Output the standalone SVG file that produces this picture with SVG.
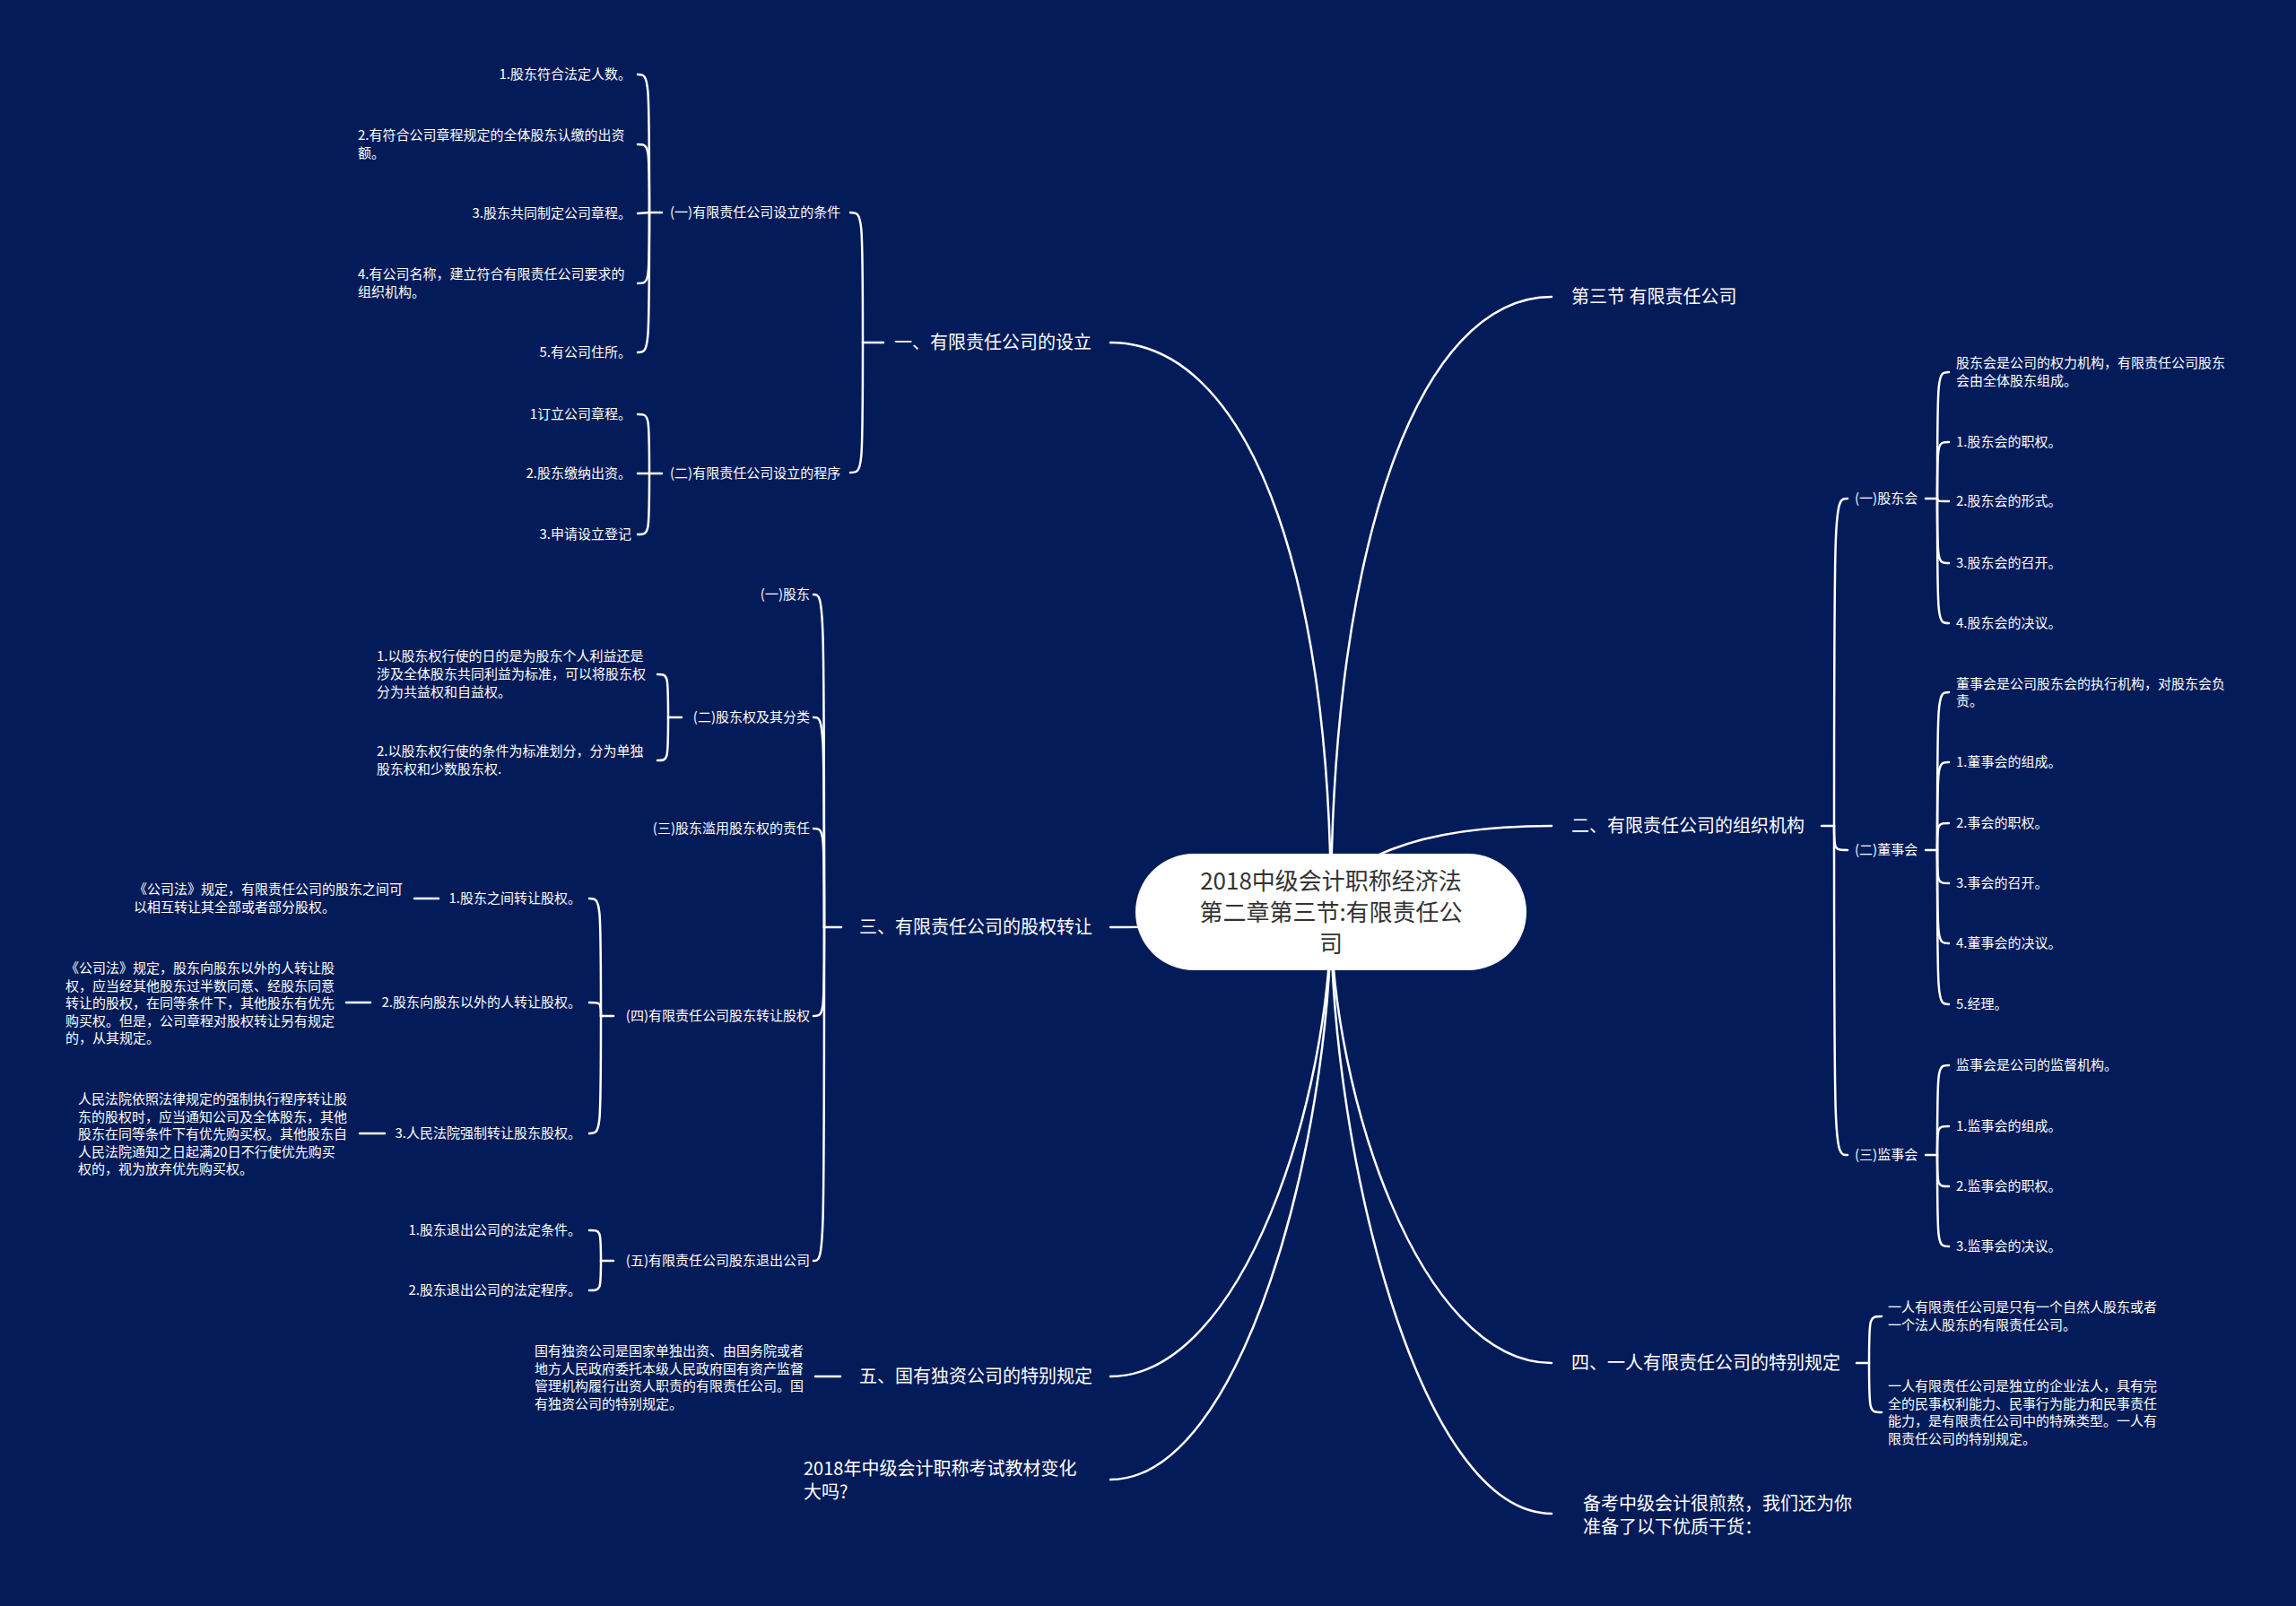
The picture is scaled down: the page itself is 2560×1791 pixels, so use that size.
<svg xmlns="http://www.w3.org/2000/svg" width="2560" height="1791" viewBox="0 0 2560 1791">
<style>
text{font-family:"Noto Sans CJK SC","Noto Sans",sans-serif;dominant-baseline:central;fill:#ffffff;transform:translate(0px,-1.5px)}
.t15{font-size:15px}
.t20{font-size:20px}
.e{text-anchor:end}
.ctr{font-size:26px;fill:#333333;text-anchor:middle}
.ln{fill:none;stroke:#ffffff;stroke-width:2.5;stroke-linecap:round}
</style>
<rect x="0" y="0" width="2560" height="1791" fill="#031c59"/>
<g id="connectors">
<path class="ln" d="M1730,331 C1582,331 1484,606 1484,1017"/>
<path class="ln" d="M1730,921 C1582,921 1484,959 1484,1017"/>
<path class="ln" d="M1730,1520 C1582,1520 1484,1216 1484,1017"/>
<path class="ln" d="M1730,1688 C1582,1688 1484,1285 1484,1017"/>
<path class="ln" d="M1238,382 C1386,382 1484,623 1484,1017"/>
<path class="ln" d="M1238,1034 C1386,1034 1484,1024 1484,1017"/>
<path class="ln" d="M1238,1535 C1386,1535 1484,1224 1484,1017"/>
<path class="ln" d="M1238,1650 C1386,1650 1484,1270 1484,1017"/>
<path class="ln" d="M985,382 L962,382"/>
<path class="ln" d="M962,382 C962,237 962,237 948,237"/>
<path class="ln" d="M962,382 C962,527 962,527 948,527"/>
<path class="ln" d="M738,237 L724,237"/>
<path class="ln" d="M724,237 C724,83 724,83 711,83"/>
<path class="ln" d="M724,237 C724,161 724,161 711,161"/>
<path class="ln" d="M724,237 L711,238"/>
<path class="ln" d="M724,237 C724,316 724,316 711,316"/>
<path class="ln" d="M724,237 C724,393 724,393 711,393"/>
<path class="ln" d="M738,528 L724,528"/>
<path class="ln" d="M724,528 C724,462 724,462 711,462"/>
<path class="ln" d="M724,528 L711,528"/>
<path class="ln" d="M724,528 C724,596 724,596 711,596"/>
<path class="ln" d="M938,1034 L919,1034"/>
<path class="ln" d="M919,1034 C919,663 919,663 907,663"/>
<path class="ln" d="M919,1034 C919,800 919,800 907,800"/>
<path class="ln" d="M919,1034 C919,924 919,924 907,924"/>
<path class="ln" d="M919,1034 C919,1133 919,1133 907,1133"/>
<path class="ln" d="M919,1034 C919,1406 919,1406 907,1406"/>
<path class="ln" d="M760,800 L745,800"/>
<path class="ln" d="M745,800 C745,752 745,752 733,752"/>
<path class="ln" d="M745,800 C745,848 745,848 733,848"/>
<path class="ln" d="M684,1133 L670,1133"/>
<path class="ln" d="M670,1133 C670,1002 670,1002 657,1002"/>
<path class="ln" d="M670,1133 C670,1118 670,1118 657,1118"/>
<path class="ln" d="M670,1133 C670,1264 670,1264 657,1264"/>
<path class="ln" d="M489,1002 L462,1002"/>
<path class="ln" d="M413,1118 L386,1118"/>
<path class="ln" d="M429,1264 L401,1264"/>
<path class="ln" d="M684,1406 L670,1406"/>
<path class="ln" d="M670,1406 C670,1372 670,1372 657,1372"/>
<path class="ln" d="M670,1406 C670,1439 670,1439 657,1439"/>
<path class="ln" d="M937,1535 L909,1535"/>
<path class="ln" d="M2031,921 L2045,921"/>
<path class="ln" d="M2045,921 C2045,556 2045,556 2060,556"/>
<path class="ln" d="M2045,921 C2045,948 2045,948 2060,948"/>
<path class="ln" d="M2045,921 C2045,1288 2045,1288 2060,1288"/>
<path class="ln" d="M2147,556 L2160,556"/>
<path class="ln" d="M2160,556 C2160,415 2160,415 2173,415"/>
<path class="ln" d="M2160,556 C2160,493 2160,493 2173,493"/>
<path class="ln" d="M2160,556 C2160,559 2160,559 2173,559"/>
<path class="ln" d="M2160,556 C2160,628 2160,628 2173,628"/>
<path class="ln" d="M2160,556 C2160,695 2160,695 2173,695"/>
<path class="ln" d="M2147,948 L2160,948"/>
<path class="ln" d="M2160,948 C2160,772 2160,772 2173,772"/>
<path class="ln" d="M2160,948 C2160,850 2160,850 2173,850"/>
<path class="ln" d="M2160,948 C2160,918 2160,918 2173,918"/>
<path class="ln" d="M2160,948 C2160,985 2160,985 2173,985"/>
<path class="ln" d="M2160,948 C2160,1052 2160,1052 2173,1052"/>
<path class="ln" d="M2160,948 C2160,1120 2160,1120 2173,1120"/>
<path class="ln" d="M2147,1288 L2160,1288"/>
<path class="ln" d="M2160,1288 C2160,1188 2160,1188 2173,1188"/>
<path class="ln" d="M2160,1288 C2160,1256 2160,1256 2173,1256"/>
<path class="ln" d="M2160,1288 C2160,1323 2160,1323 2173,1323"/>
<path class="ln" d="M2160,1288 C2160,1390 2160,1390 2173,1390"/>
<path class="ln" d="M2070,1520 L2084,1520"/>
<path class="ln" d="M2084,1520 C2084,1468 2084,1468 2098,1468"/>
<path class="ln" d="M2084,1520 C2084,1575 2084,1575 2098,1575"/>
</g>

<g id="n0">
<rect x="1266" y="952" width="436" height="130" rx="65" ry="65" fill="#ffffff"/>
<text class="ctr" x="1484" y="982">2018中级会计职称经济法</text>
<text class="ctr" x="1484" y="1017">第二章第三节:有限责任公</text>
<text class="ctr" x="1484" y="1052">司</text>
</g>

<g id="n1"><text class="t20" x="1752" y="331">第三节 有限责任公司</text></g>
<g id="n2"><text class="t20" x="1752" y="921">二、有限责任公司的组织机构</text></g>
<g id="n2a"><text class="t15" x="2068" y="556">(一)股东会</text></g>
<g id="n2a0"><text class="t15" x="2181" y="405">股东会是公司的权力机构，有限责任公司股东</text><text class="t15" x="2181" y="425">会由全体股东组成。</text></g>
<g id="n2a1"><text class="t15" x="2181" y="493">1.股东会的职权。</text></g>
<g id="n2a2"><text class="t15" x="2181" y="559">2.股东会的形式。</text></g>
<g id="n2a3"><text class="t15" x="2181" y="628">3.股东会的召开。</text></g>
<g id="n2a4"><text class="t15" x="2181" y="695">4.股东会的决议。</text></g>
<g id="n2b"><text class="t15" x="2068" y="948">(二)董事会</text></g>
<g id="n2b0"><text class="t15" x="2181" y="763">董事会是公司股东会的执行机构，对股东会负</text><text class="t15" x="2181" y="782">责。</text></g>
<g id="n2b1"><text class="t15" x="2181" y="850">1.董事会的组成。</text></g>
<g id="n2b2"><text class="t15" x="2181" y="918">2.事会的职权。</text></g>
<g id="n2b3"><text class="t15" x="2181" y="985">3.事会的召开。</text></g>
<g id="n2b4"><text class="t15" x="2181" y="1052">4.董事会的决议。</text></g>
<g id="n2b5"><text class="t15" x="2181" y="1120">5.经理。</text></g>
<g id="n2c"><text class="t15" x="2068" y="1288">(三)监事会</text></g>
<g id="n2c0"><text class="t15" x="2181" y="1188">监事会是公司的监督机构。</text></g>
<g id="n2c1"><text class="t15" x="2181" y="1256">1.监事会的组成。</text></g>
<g id="n2c2"><text class="t15" x="2181" y="1323">2.监事会的职权。</text></g>
<g id="n2c3"><text class="t15" x="2181" y="1390">3.监事会的决议。</text></g>
<g id="n3"><text class="t20" x="1752" y="1520">四、一人有限责任公司的特别规定</text></g>
<g id="n3a"><text class="t15" x="2105" y="1458">一人有限责任公司是只有一个自然人股东或者</text><text class="t15" x="2105" y="1478">一个法人股东的有限责任公司。</text></g>
<g id="n3b"><text class="t15" x="2105" y="1546">一人有限责任公司是独立的企业法人，具有完</text><text class="t15" x="2105" y="1565.5">全的民事权利能力、民事行为能力和民事责任</text><text class="t15" x="2105" y="1585">能力，是有限责任公司中的特殊类型。一人有</text><text class="t15" x="2105" y="1604.5">限责任公司的特别规定。</text></g>
<g id="n4"><text class="t20" x="1765" y="1677">备考中级会计很煎熬，我们还为你</text><text class="t20" x="1765" y="1703">准备了以下优质干货：</text></g>

<g id="n5"><text class="t20" x="997" y="382">一、有限责任公司的设立</text></g>
<g id="n5a"><text class="t15" x="747" y="237">(一)有限责任公司设立的条件</text></g>
<g id="n5a1"><text class="t15 e" x="704" y="83">1.股东符合法定人数。</text></g>
<g id="n5a2"><text class="t15" x="399" y="151">2.有符合公司章程规定的全体股东认缴的出资</text><text class="t15" x="399" y="171">额。</text></g>
<g id="n5a3"><text class="t15 e" x="704" y="238">3.股东共同制定公司章程。</text></g>
<g id="n5a4"><text class="t15" x="399" y="306">4.有公司名称，建立符合有限责任公司要求的</text><text class="t15" x="399" y="326">组织机构。</text></g>
<g id="n5a5"><text class="t15 e" x="704" y="393">5.有公司住所。</text></g>
<g id="n5b"><text class="t15" x="747" y="528">(二)有限责任公司设立的程序</text></g>
<g id="n5b1"><text class="t15 e" x="704" y="462">1订立公司章程。</text></g>
<g id="n5b2"><text class="t15 e" x="704" y="528">2.股东缴纳出资。</text></g>
<g id="n5b3"><text class="t15 e" x="704" y="596">3.申请设立登记</text></g>

<g id="n6"><text class="t20" x="958" y="1034">三、有限责任公司的股权转让</text></g>
<g id="n6a"><text class="t15 e" x="903" y="663">(一)股东</text></g>
<g id="n6b"><text class="t15 e" x="903" y="800">(二)股东权及其分类</text></g>
<g id="n6b1"><text class="t15" x="420" y="732">1.以股东权行使的日的是为股东个人利益还是</text><text class="t15" x="420" y="752">涉及全体股东共同利益为标准，可以将股东权</text><text class="t15" x="420" y="772">分为共益权和自益权。</text></g>
<g id="n6b2"><text class="t15" x="420" y="838">2.以股东权行使的条件为标准划分，分为单独</text><text class="t15" x="420" y="858">股东权和少数股东权.</text></g>
<g id="n6c"><text class="t15 e" x="903" y="924">(三)股东滥用股东权的责任</text></g>
<g id="n6d"><text class="t15 e" x="903" y="1133">(四)有限责任公司股东转让股权</text></g>
<g id="n6d1"><text class="t15 e" x="648" y="1002">1.股东之间转让股权。</text></g>
<g id="n6d1d"><text class="t15" x="149" y="992">《公司法》规定，有限责任公司的股东之间可</text><text class="t15" x="149" y="1012">以相互转让其全部或者部分股权。</text></g>
<g id="n6d2"><text class="t15 e" x="648" y="1118">2.股东向股东以外的人转让股权。</text></g>
<g id="n6d2d"><text class="t15" x="73" y="1080">《公司法》规定，股东向股东以外的人转让股</text><text class="t15" x="73" y="1099.5">权，应当经其他股东过半数同意、经股东同意</text><text class="t15" x="73" y="1119">转让的股权，在同等条件下，其他股东有优先</text><text class="t15" x="73" y="1138.5">购买权。但是，公司章程对股权转让另有规定</text><text class="t15" x="73" y="1158">的，从其规定。</text></g>
<g id="n6d3"><text class="t15 e" x="648" y="1264">3.人民法院强制转让股东股权。</text></g>
<g id="n6d3d"><text class="t15" x="87" y="1226">人民法院依照法律规定的强制执行程序转让股</text><text class="t15" x="87" y="1245.5">东的股权时，应当通知公司及全体股东，其他</text><text class="t15" x="87" y="1265">股东在同等条件下有优先购买权。其他股东自</text><text class="t15" x="87" y="1284.5">人民法院通知之日起满20日不行使优先购买</text><text class="t15" x="87" y="1304">权的，视为放弃优先购买权。</text></g>
<g id="n6e"><text class="t15 e" x="903" y="1406">(五)有限责任公司股东退出公司</text></g>
<g id="n6e1"><text class="t15 e" x="648" y="1372">1.股东退出公司的法定条件。</text></g>
<g id="n6e2"><text class="t15 e" x="648" y="1439">2.股东退出公司的法定程序。</text></g>

<g id="n7"><text class="t20" x="958" y="1535">五、国有独资公司的特别规定</text></g>
<g id="n7d"><text class="t15" x="596" y="1507">国有独资公司是国家单独出资、由国务院或者</text><text class="t15" x="596" y="1526.5">地方人民政府委托本级人民政府国有资产监督</text><text class="t15" x="596" y="1546">管理机构履行出资人职责的有限责任公司。国</text><text class="t15" x="596" y="1565.5">有独资公司的特别规定。</text></g>
<g id="n8"><text class="t20" x="896" y="1638">2018年中级会计职称考试教材变化</text><text class="t20" x="896" y="1664">大吗?</text></g>
</svg>
